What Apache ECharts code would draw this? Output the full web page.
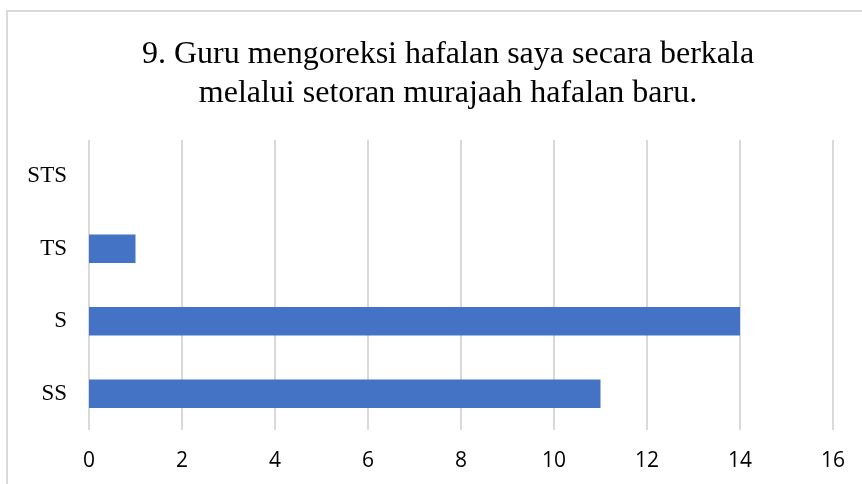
<!DOCTYPE html>
<html>
  <head>
    <meta charset="utf-8" />
    <title>Guru mengoreksi hafalan</title>
    <script src="https://cdn.jsdelivr.net/npm/echarts@6/dist/echarts.min.js"></script>
    <style type="text/css">
      html, body { margin: 0; padding: 0; background: #fff; }
    </style>
  </head>
  <body>
    <div id="main" style="width: 862px; height: 484px"></div>
    <script type="text/javascript">
      // data
      var categories = ["SS", "S", "TS", "STS"];
      var values = [11, 14, 1, 0];
      var titleLines = [
        "9. Guru mengoreksi hafalan saya secara berkala",
        "melalui setoran murajaah hafalan baru."
      ];

      var myChart = echarts.init(document.getElementById("main"));

      var option = {
        animation: false,
        title: {
          text: titleLines.join("\n"),
          left: 443,
          top: 30,
          textAlign: "center",
          textStyle: {
            fontFamily: "Liberation Serif",
            fontWeight: "normal",
            fontSize: 32,
            lineHeight: 39,
            color: "#000"
          }
        },
        graphic: [
          {
            type: "rect",
            shape: { x: 7, y: 11, width: 900, height: 500 },
            style: { fill: "none", stroke: "#d9d9d9", lineWidth: 2 },
            silent: true
          }
        ],
        grid: { left: 89, right: 29, top: 140, bottom: 54 },
        xAxis: {
          type: "value",
          min: 0,
          max: 16,
          interval: 2,
          axisLine: { show: false },
          axisTick: { show: false },
          splitLine: { lineStyle: { color: "#d9d9d9", width: 2 } },
          axisLabel: {
            fontFamily: "Open Sans",
            fontSize: 21,
            color: "#000",
            margin: 21
          }
        },
        yAxis: {
          type: "category",
          data: categories,
          axisLine: { show: false },
          axisTick: { show: false },
          axisLabel: {
            fontFamily: "Liberation Serif",
            fontSize: 23,
            color: "#000",
            margin: 22
          }
        },
        series: [
          {
            type: "bar",
            data: values,
            barWidth: "39%",
            itemStyle: { color: "#4472c4" }
          }
        ]
      };

      myChart.setOption(option);
    </script>
  </body>
</html>
